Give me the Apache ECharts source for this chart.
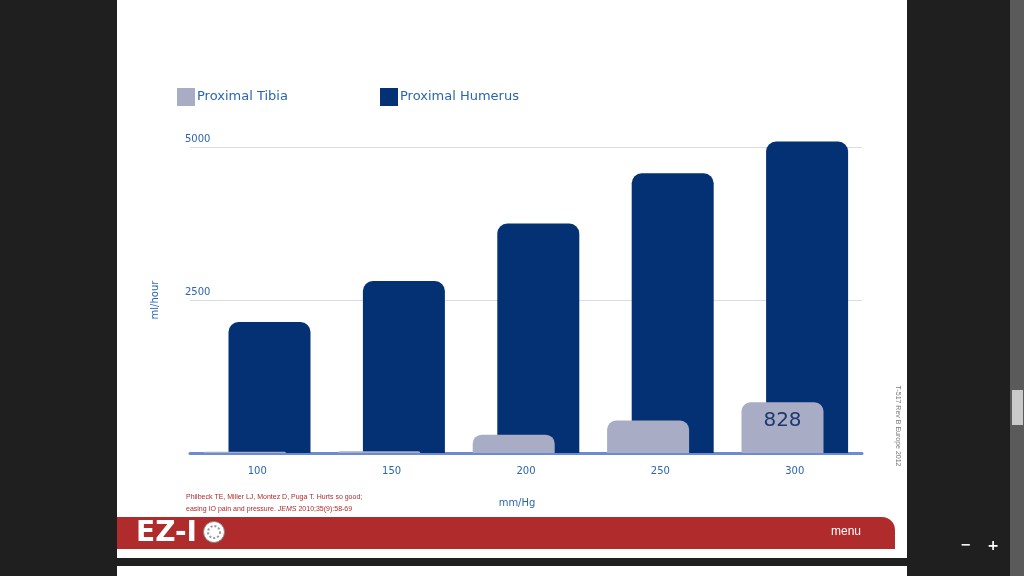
<!DOCTYPE html>
<html>
<head>
<meta charset="utf-8">
<script src="https://cdn.jsdelivr.net/npm/echarts@6/dist/echarts.min.js"></script>
<style>
  html, body { margin: 0; padding: 0; background: #1f1f1f; }
  #main { width: 1024px; height: 576px; }
</style>
</head>
<body>
<div id="main"></div>
<script>
// pressure categories (mm/Hg)
var categories = ['100', '150', '200', '250', '300'];
// flow rates, ml/hour
var tibia = [20, 30, 300, 530, 828];
var humerus = [2140, 2810, 3750, 4570, 5090];
var yTicks = [0, 2500, 5000];

var chartDom = document.getElementById('main');
var myChart = echarts.init(chartDom);

var blueText = '#2a66b0';
var redFooter = '#b02b2b';

var tibiaData = tibia.map(function (v, i) {
    if (i === tibia.length - 1) {
        return {
            value: v,
            label: {
                show: true,
                position: 'insideTop',
                distance: 8,
                fontSize: 20,
                fontFamily: 'DejaVu Sans',
                color: '#1e3870',
                formatter: '{c}'
            }
        };
    }
    return v;
});

var option = {
    backgroundColor: '#1f1f1f',
    animation: false,
    textStyle: { fontFamily: 'DejaVu Sans' },
    graphic: [
        // slide
        { type: 'rect', z: -100, shape: { x: 117, y: 0, width: 790, height: 558 }, style: { fill: '#ffffff' } },
        { type: 'rect', z: -100, shape: { x: 117, y: 566, width: 790, height: 10 }, style: { fill: '#ffffff' } },
        // footer bar
        { type: 'rect', z: -90, shape: { x: 117, y: 517, width: 778, height: 32, r: [0, 13, 0, 0] }, style: { fill: redFooter } },
        { type: 'text', z: -80, style: { x: 136, y: 534, text: 'EZ-I', fill: '#ffffff', font: 'bold 28px "DejaVu Sans"', verticalAlign: 'middle' } },
        { type: 'circle', z: -80, shape: { cx: 214, cy: 532, r: 10.5 }, style: { fill: '#ffffff', stroke: '#888888', lineWidth: 1 } },
        { type: 'circle', z: -79, shape: { cx: 214, cy: 532, r: 6 }, style: { fill: 'none', stroke: '#999999', lineWidth: 2, lineDash: [2, 2] } },
        { type: 'text', z: -80, style: { x: 846, y: 532, text: 'menu', fill: '#ffffff', font: '12px "Liberation Sans"', align: 'center', verticalAlign: 'middle' } },
        // citation
        {
            type: 'text', z: -80,
            style: {
                x: 186, y: 491,
                text: 'Philbeck TE, Miller LJ, Montez D, Puga T. Hurts so good;\neasing IO pain and pressure. {i|JEMS} 2010;35(9):58-69',
                fill: redFooter,
                font: '7px "Liberation Sans"',
                lineHeight: 12,
                rich: { i: { fontStyle: 'italic', fontSize: 7, fill: redFooter } }
            }
        },
        // side note
        { type: 'text', z: -80, x: 898, y: 426, rotation: -Math.PI / 2, style: { x: 0, y: 0, text: 'T-517 Rev B Europe 2012', fill: '#777777', font: '7px "Liberation Sans"', align: 'center', verticalAlign: 'middle' } },
        // viewer chrome
        { type: 'rect', z: -100, shape: { x: 1010, y: 0, width: 14, height: 576 }, style: { fill: '#5a5a5a' } },
        { type: 'rect', z: -99, shape: { x: 1012, y: 390, width: 11, height: 35 }, style: { fill: '#c9c9c9' } },
        { type: 'text', z: -80, style: { x: 966, y: 546, text: '−', fill: '#ffffff', font: 'bold 13px "DejaVu Sans"', align: 'center', verticalAlign: 'middle' } },
        { type: 'text', z: -80, style: { x: 993, y: 546, text: '+', fill: '#ffffff', font: 'bold 14px "DejaVu Sans"', align: 'center', verticalAlign: 'middle' } }
    ],
    legend: [
        {
            data: ['Proximal Tibia'],
            left: 172, top: 83,
            icon: 'rect', itemWidth: 18, itemHeight: 18,
            textStyle: { color: blueText, fontSize: 13, padding: [0, 0, 0, -3] }
        },
        {
            data: ['Proximal Humerus'],
            left: 375, top: 83,
            icon: 'rect', itemWidth: 18, itemHeight: 18,
            textStyle: { color: blueText, fontSize: 13, padding: [0, 0, 0, -3] }
        }
    ],
    grid: { left: 190, right: 162, top: 147, bottom: 123 },
    xAxis: {
        type: 'category',
        data: categories,
        name: 'mm/Hg',
        nameLocation: 'middle',
        nameGap: 45,
        nameTextStyle: { color: blueText, fontSize: 10, padding: [0, 18, 0, 0] },
        axisLine: { lineStyle: { color: '#6d8bd3', width: 3 } },
        axisTick: { show: false },
        axisLabel: { color: blueText, fontSize: 10, margin: 13 }
    },
    yAxis: {
        type: 'value',
        min: yTicks[0],
        max: yTicks[yTicks.length - 1],
        interval: yTicks[1] - yTicks[0],
        name: 'ml/hour',
        nameLocation: 'middle',
        nameGap: 30,
        nameTextStyle: { color: blueText, fontSize: 10 },
        axisLine: { show: false },
        axisTick: { show: false },
        axisLabel: {
            inside: true,
            margin: -5,
            showMinLabel: false,
            color: blueText,
            fontSize: 10,
            verticalAlign: 'bottom',
            padding: [0, 0, 3, 0],
            formatter: function (v) { return String(v); }
        },
        splitLine: { lineStyle: { color: '#d9dbe8', width: 1 } }
    },
    series: [
        {
            name: 'Proximal Tibia',
            type: 'bar',
            z: 3,
            clip: false,
            barWidth: 82,
            barGap: '-70%',
            itemStyle: { color: '#a8adc5', borderRadius: [9, 9, 0, 0] },
            data: tibiaData
        },
        {
            name: 'Proximal Humerus',
            type: 'bar',
            z: 2,
            clip: false,
            barWidth: 82,
            itemStyle: { color: '#033174', borderRadius: [10, 10, 0, 0] },
            data: humerus
        }
    ]
};

option && myChart.setOption(option);
</script>
</body>
</html>
